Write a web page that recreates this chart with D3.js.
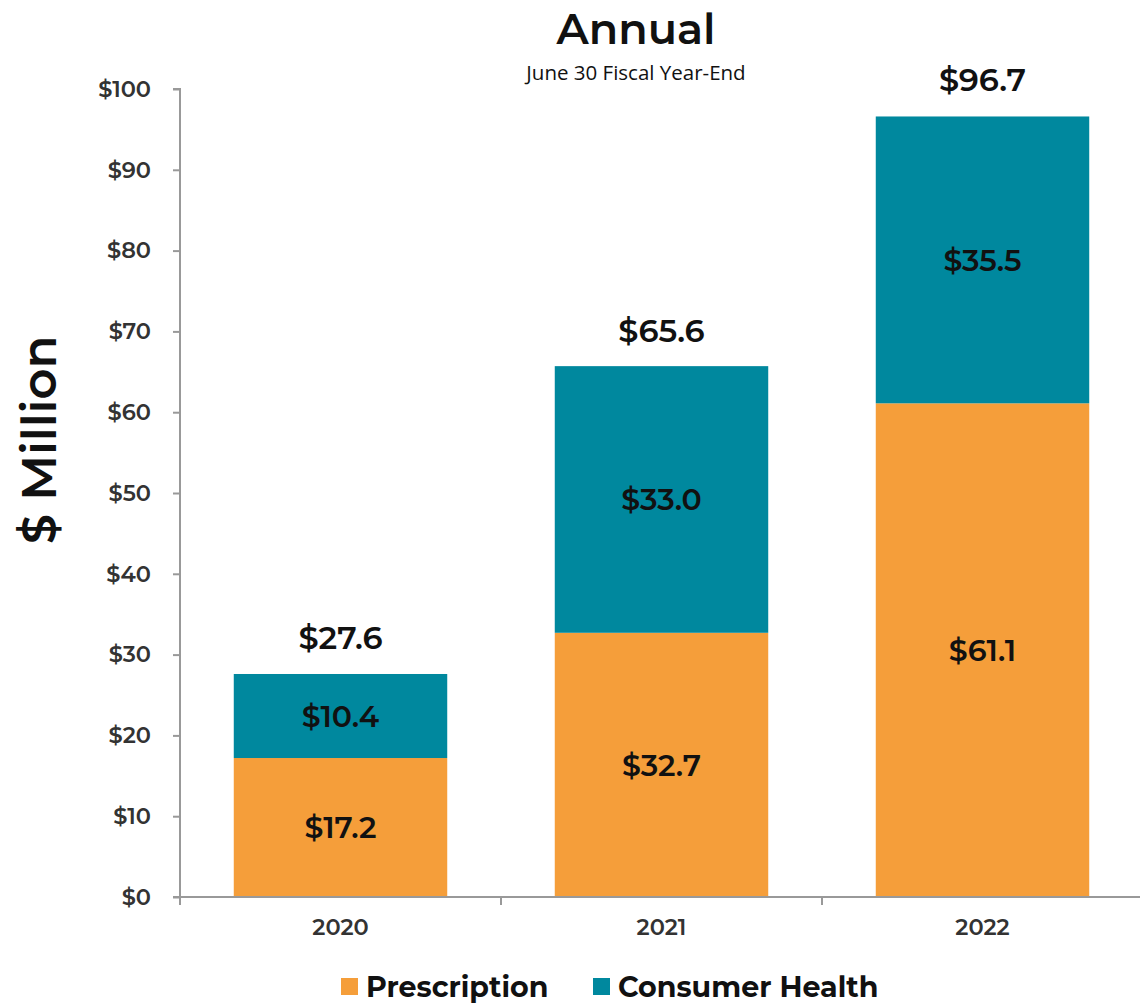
<!DOCTYPE html>
<html><head><meta charset="utf-8">
<script src="https://cdn.jsdelivr.net/npm/d3@7"></script>
<style>body{margin:0;background:#fff;} svg{display:block;}</style>
</head><body>
<svg id="c" width="1140" height="1004"></svg>
<script>
const years = ["2020","2021","2022"];
const prescription = [17.2, 32.7, 61.1];
const consumerHealth = [10.4, 33.0, 35.5];
const totals = [27.6, 65.6, 96.7];
const yTicks = [0,10,20,30,40,50,60,70,80,90,100];
const seriesNames = ["Prescription","Consumer Health"];
const colors = ["#F59E3A","#00889E"];

const svg = d3.select("#c");
const font = "Montserrat, Inter, 'Noto Sans', sans-serif";
const x = d3.scaleBand().domain(years).range([180,1143]).paddingInner(0.335).paddingOuter(0.1675);
const y = d3.scaleLinear().domain([0,100]).range([897,89]);

const rows = years.map((yr,i)=>({year:yr, Prescription:prescription[i], "Consumer Health":consumerHealth[i]}));
const stack = d3.stack().keys(seriesNames)(rows);

// bars
stack.forEach((s,si)=>{
  svg.append("g").selectAll("rect").data(s).join("rect")
    .attr("x", d=>x(d.data.year)).attr("width", x.bandwidth())
    .attr("y", d=>y(d[1])).attr("height", d=>y(d[0])-y(d[1]))
    .attr("fill", colors[si]);
  svg.append("g").selectAll("text").data(s).join("text")
    .attr("x", d=>x(d.data.year)+x.bandwidth()/2)
    .attr("y", d=>(y(d[0])+y(d[1]))/2)
    .attr("dy","0.36em").attr("text-anchor","middle")
    .style("font-family",font).style("font-weight",600).style("font-size","30px").attr("fill","#111")
    .text(d=>"$"+(d[1]-d[0]).toFixed(1));
});
// totals
svg.append("g").selectAll("text").data(years).join("text")
  .attr("x", d=>x(d)+x.bandwidth()/2).attr("y",(d,i)=>y(totals[i])-25)
  .attr("text-anchor","middle")
  .style("font-family",font).style("font-weight",600).style("font-size","32px").attr("fill","#111")
  .text((d,i)=>"$"+totals[i].toFixed(1));

// y axis
const ya = svg.append("g").attr("transform","translate(180,0)")
  .call(d3.axisLeft(y).tickValues(yTicks).tickFormat(d=>"$"+d).tickSize(7).tickPadding(22));
ya.select(".domain").attr("stroke","#999").attr("stroke-width",2).attr("d","M-7,89H0V897H-7");
ya.selectAll(".tick line").attr("stroke","#999").attr("stroke-width",2);
ya.selectAll(".tick text").style("font-family",font).style("font-weight",600).style("font-size","22.5px").attr("fill","#333");

// x axis
const xa = svg.append("g").attr("transform","translate(0,897)")
  .call(d3.axisBottom(x).tickSize(0).tickPadding(22));
xa.select(".domain").attr("stroke","#999").attr("stroke-width",2).attr("d","M180,0H1143");
xa.selectAll(".tick text").style("font-family",font).style("font-weight",600).style("font-size","22.5px").attr("fill","#333");
const bounds = [x.range()[0], ...years.map(d=>x(d)+x.bandwidth()+x.step()*x.paddingInner()/2)];
svg.append("g").selectAll("line").data(bounds).join("line")
  .attr("x1",d=>d).attr("x2",d=>d).attr("y1",897).attr("y2",905)
  .attr("stroke","#999").attr("stroke-width",2);

// titles
svg.append("text").attr("x",636).attr("y",44).attr("text-anchor","middle")
  .style("font-family",font).style("font-weight",600).style("font-size","43px").attr("fill","#111").text("Annual");
svg.append("text").attr("x",636).attr("y",80).attr("text-anchor","middle")
  .style("font-family","'Open Sans', sans-serif").style("font-size","20.5px").attr("fill","#111").text("June 30 Fiscal Year-End");
svg.append("text").attr("transform","translate(56,440) rotate(-90)").attr("text-anchor","middle")
  .style("font-family",font).style("font-weight",600).style("font-size","48px").attr("fill","#111").text("$ Million");

// legend
const legX = [341, 593];
seriesNames.forEach((n,i)=>{
  svg.append("rect").attr("x",legX[i]).attr("y",978).attr("width",17).attr("height",17).attr("fill",colors[i]);
  svg.append("text").attr("x",legX[i]+25).attr("y",997)
    .style("font-family",font).style("font-weight",700).style("font-size","28.5px").attr("fill","#111").text(n);
});
</script>
</body></html>
